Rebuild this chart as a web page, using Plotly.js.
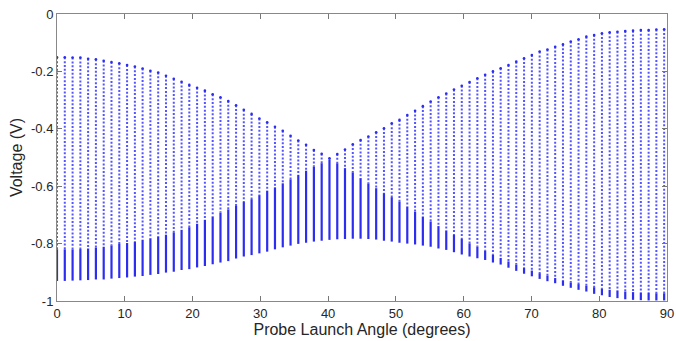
<!DOCTYPE html>
<html>
<head>
<meta charset="utf-8">
<script src="https://cdn.plot.ly/plotly-3.0.1.min.js"></script>
<style>html,body{margin:0;padding:0;background:#fff;}#chart{width:676px;height:341px;}</style>
</head>
<body>
<div id="chart"></div>
<script>
// Probe launch angle of each measured column (degrees)
const angles = [0.00,1.15,2.30,3.45,4.59,5.74,6.89,8.04,9.19,10.34,11.49,12.63,13.78,14.93,16.08,17.23,18.38,19.52,20.67,21.82,22.97,24.12,25.27,26.42,27.56,28.71,29.86,31.01,32.16,33.31,34.46,35.60,36.75,37.90,39.05,40.20,41.35,42.49,43.64,44.79,45.94,47.09,48.24,49.39,50.53,51.68,52.83,53.98,55.13,56.28,57.43,58.57,59.72,60.87,62.02,63.17,64.32,65.46,66.61,67.76,68.91,70.06,71.21,72.36,73.50,74.65,75.80,76.95,78.10,79.25,80.40,81.54,82.69,83.84,84.99,86.14,87.29,88.43,89.58];

// Curve starting high at 0 deg and falling (V)
const curveA = [-0.151,-0.151,-0.152,-0.152,-0.156,-0.158,-0.163,-0.167,-0.172,-0.178,-0.183,-0.190,-0.198,-0.204,-0.215,-0.226,-0.236,-0.247,-0.257,-0.267,-0.280,-0.290,-0.303,-0.318,-0.334,-0.348,-0.364,-0.377,-0.393,-0.407,-0.424,-0.441,-0.456,-0.474,-0.487,-0.503,-0.520,-0.537,-0.552,-0.572,-0.590,-0.607,-0.624,-0.638,-0.654,-0.671,-0.689,-0.706,-0.723,-0.739,-0.755,-0.770,-0.784,-0.799,-0.811,-0.825,-0.838,-0.850,-0.862,-0.873,-0.884,-0.894,-0.903,-0.912,-0.920,-0.928,-0.935,-0.941,-0.947,-0.952,-0.957,-0.961,-0.964,-0.967,-0.969,-0.971,-0.972,-0.973,-0.973];

// Curve starting low at 0 deg and rising (V)
const curveB = [-0.820,-0.820,-0.820,-0.819,-0.817,-0.814,-0.811,-0.806,-0.801,-0.798,-0.794,-0.787,-0.782,-0.776,-0.769,-0.761,-0.752,-0.743,-0.731,-0.717,-0.706,-0.692,-0.681,-0.669,-0.655,-0.645,-0.631,-0.616,-0.604,-0.590,-0.576,-0.561,-0.546,-0.532,-0.520,-0.508,-0.488,-0.472,-0.454,-0.439,-0.427,-0.412,-0.398,-0.381,-0.369,-0.352,-0.337,-0.321,-0.305,-0.290,-0.277,-0.263,-0.250,-0.237,-0.224,-0.212,-0.200,-0.189,-0.178,-0.166,-0.154,-0.143,-0.131,-0.124,-0.114,-0.106,-0.096,-0.088,-0.079,-0.073,-0.067,-0.064,-0.062,-0.059,-0.058,-0.056,-0.056,-0.054,-0.053];

// Lowest voltage of each column (V)
const floorV = [-0.930,-0.930,-0.929,-0.928,-0.927,-0.925,-0.925,-0.922,-0.920,-0.918,-0.915,-0.913,-0.909,-0.906,-0.901,-0.898,-0.892,-0.889,-0.883,-0.878,-0.872,-0.866,-0.861,-0.852,-0.845,-0.840,-0.834,-0.828,-0.820,-0.813,-0.807,-0.801,-0.797,-0.793,-0.790,-0.787,-0.785,-0.784,-0.783,-0.783,-0.784,-0.786,-0.790,-0.793,-0.797,-0.800,-0.803,-0.807,-0.811,-0.817,-0.822,-0.830,-0.838,-0.845,-0.851,-0.857,-0.866,-0.873,-0.884,-0.895,-0.905,-0.914,-0.923,-0.931,-0.938,-0.947,-0.954,-0.961,-0.967,-0.975,-0.980,-0.986,-0.990,-0.994,-0.996,-0.997,-0.998,-0.998,-0.998];

const xTicks = [0,10,20,30,40,50,60,70,80,90];
const yTicks = [-1,-0.8,-0.6,-0.4,-0.2,0];
const yTickText = ['-1','-0.8','-0.6','-0.4','-0.2','0'];

const upperTop = angles.map((_, i) => Math.max(curveA[i], curveB[i]));
const knee = angles.map((_, i) => Math.min(curveA[i], curveB[i]));

function segments(from, to) {
  const xs = [], ys = [];
  angles.forEach((a, i) => { xs.push(a, a, null); ys.push(from[i], to[i], null); });
  return {xs, ys};
}
const up = segments(upperTop, knee);
const lo = segments(knee, floorV);

const traces = [
  {x: up.xs, y: up.ys, mode: 'lines', type: 'scatter', hoverinfo: 'skip',
   line: {color: 'rgb(85,85,255)', width: 2, dash: '2px,1.8px'}, connectgaps: false},
  {x: lo.xs, y: lo.ys, mode: 'lines', type: 'scatter', hoverinfo: 'skip',
   line: {color: 'rgb(45,45,240)', width: 2.2, dash: 'solid'}, connectgaps: false},
  {x: angles, y: upperTop, mode: 'markers', type: 'scatter', hoverinfo: 'skip',
   marker: {color: 'rgb(45,45,240)', size: 2.6, symbol: 'circle', line: {width: 0}}}
];

const axisFont = {family: 'Liberation Sans, Arial, sans-serif', size: 13, color: '#262626'};
const layout = {
  width: 676, height: 341,
  margin: {l: 57, r: 9, t: 14, b: 40},
  paper_bgcolor: '#fff', plot_bgcolor: '#fff',
  showlegend: false,
  xaxis: {
    range: [0, 90], tickvals: xTicks, ticks: 'inside', ticklen: 5, tickcolor: '#777',
    showline: true, linecolor: '#888', linewidth: 1, mirror: 'ticks',
    showgrid: false, zeroline: false, tickfont: axisFont, automargin: false,
    title: {text: 'Probe Launch Angle (degrees)', font: {family: 'Liberation Sans, Arial, sans-serif', size: 16, color: '#262626'}, standoff: 2}
  },
  yaxis: {
    range: [-1, 0], tickvals: yTicks, ticktext: yTickText, ticks: 'inside', ticklen: 5, tickcolor: '#777',
    showline: true, linecolor: '#888', linewidth: 1, mirror: 'ticks',
    showgrid: false, zeroline: false, tickfont: axisFont, automargin: false,
    title: {text: 'Voltage (V)', font: {family: 'Liberation Sans, Arial, sans-serif', size: 16, color: '#262626'}, standoff: 4}
  }
};

Plotly.newPlot('chart', traces, layout, {staticPlot: true, displayModeBar: false});
</script>
</body>
</html>
